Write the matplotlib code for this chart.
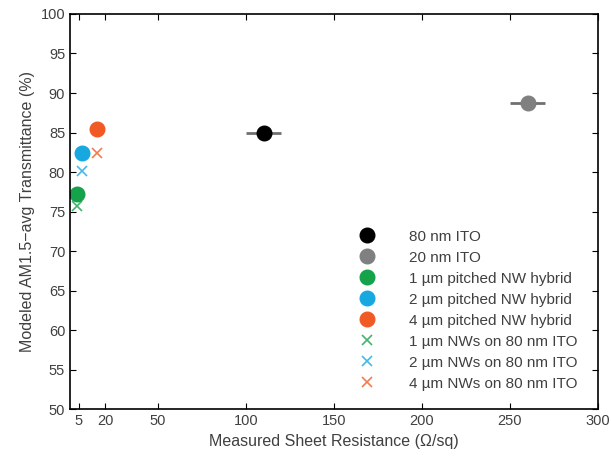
import matplotlib.pyplot as plt

plt.rcParams['font.family'] = ['Liberation Sans', 'DejaVu Sans']

# sheet resistance (ohm/sq) and modeled transmittance (%)
ito_labels = ['80 nm ITO', '20 nm ITO']
ito_r = [110, 260]
ito_t = [84.9, 88.7]
ito_err = [10, 10]
ito_colors = ['black', '#808080']

hybrid_labels = ['1 µm pitched NW hybrid', '2 µm pitched NW hybrid', '4 µm pitched NW hybrid']
hybrid_r = [4.1, 7.0, 15.2]
hybrid_t = [77.2, 82.4, 85.5]

nw_labels = ['1 µm NWs on 80 nm ITO', '2 µm NWs on 80 nm ITO', '4 µm NWs on 80 nm ITO']
nw_r = [4.1, 7.0, 15.2]
nw_t = [75.7, 80.1, 82.4]

colors = ['#14a24a', '#18a8e0', '#f15a24']
xticks = [5, 20, 50, 100, 150, 200, 250, 300]

fig = plt.figure(figsize=(6.11, 4.65), dpi=100)
ax = fig.add_axes([0.1146, 0.1198, 0.8641, 0.8502])

for lab, r, t, e, c in zip(ito_labels, ito_r, ito_t, ito_err, ito_colors):
    ax.errorbar(r, t, xerr=e, fmt='none', ecolor='#707070', elinewidth=2, capsize=0)
    ax.plot(r, t, 'o', color=c, ms=10.5, label=lab)
for lab, r, t, c in zip(hybrid_labels, hybrid_r, hybrid_t, colors):
    ax.plot(r, t, 'o', color=c, ms=10.5, label=lab)
for lab, r, t, c in zip(nw_labels, nw_r, nw_t, colors):
    ax.plot(r, t, 'x', color=c, ms=7.5, mew=1.2, label=lab, alpha=0.8)

ax.set_xlim(0, 300)
ax.set_ylim(50, 100)
ax.set_xticks(xticks)
ax.set_yticks(range(50, 101, 5))
ax.tick_params(direction='in', top=True, right=True, labelsize=10.5,
               labelcolor='#404040', length=4)
for s in ax.spines.values():
    s.set_linewidth(1.2)
ax.set_xlabel('Measured Sheet Resistance (Ω/sq)', fontsize=11.5, color='#404040')
ax.set_ylabel('Modeled AM1.5−avg Transmittance (%)', fontsize=11.5, color='#404040')

ax.legend(loc='upper left', bbox_to_anchor=(352 / 611, 1 - 222 / 465),
          bbox_transform=fig.transFigure, frameon=False, fontsize=11,
          borderpad=0, handlelength=1.0, handletextpad=2.2, labelspacing=0.46,
          labelcolor='#404040')

fig.savefig('out.png', dpi=100)
